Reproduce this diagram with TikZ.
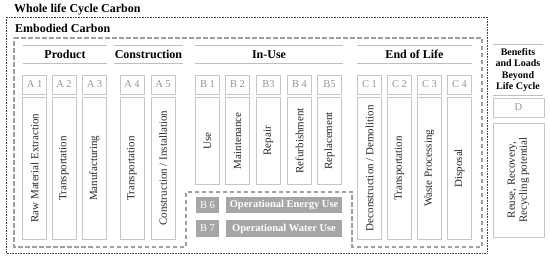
\documentclass[tikz,border=0pt]{standalone}
\usepackage{fontspec}
\setmainfont{Liberation Serif}
\begin{document}
\begin{tikzpicture}[x=1pt,y=-1pt,
        codebox/.style={draw=gray!45, line width=0.8pt, text=gray!85,
            font=\fontsize{10.5}{12}\selectfont, minimum width=24pt,
            minimum height=19pt, inner sep=0pt},
        stagebox/.style={draw=gray!45, line width=0.8pt, rotate=90,
            minimum height=24pt, inner sep=0pt, text=black!85,
            font=\fontsize{11}{12}\selectfont},
        headbox/.style={font=\bfseries\fontsize{12}{14}\selectfont,
            minimum height=17.5pt, inner sep=0pt},
        hline/.style={draw=gray!50, line width=0.8pt},
        operbox/.style={fill=gray!70, text=white, inner sep=0pt,
            font=\fontsize{10.5}{12}\selectfont},
        titlebox/.style={font=\bfseries\fontsize{12}{14}\selectfont,
            anchor=west, inner sep=0pt}]
        \useasboundingbox (0,0) rectangle (550,261);

        % Whole life cycle and embodied carbon outlines.
        \draw[densely dotted, gray!50!black, line width=0.6pt]
            (6,17) rectangle (487,253);
        \draw[gray!75, line width=1.6pt, dash pattern=on 4.5pt off 2.5pt]
            (14,38) -- (482,38) -- (482,247) -- (352,247) -- (352,192)
            -- (186,192) -- (186,247) -- (14,247) -- cycle;
        \node[titlebox] (whole) at (14,9.5) {Whole life Cycle Carbon};
        \node[titlebox] (embodied) at (15,28) {Embodied Carbon};

        % Stage headers.
        \node[headbox, minimum width=84.3pt] (product) at (65,54.25) {Product};
        \node[headbox, minimum width=69pt] (construction) at (148.5,54.25) {Construction};
        \node[headbox, minimum width=148pt] (inuse) at (269,54.25) {In-Use};
        \node[headbox, minimum width=115pt] (endoflife) at (414.5,54.25) {End of Life};
        \node[headbox, minimum width=50pt, minimum height=50pt, align=center,
            font=\bfseries\fontsize{10}{11.5}\selectfont] (beyond) at (518,70)
            {Benefits\\and Loads\\Beyond\\Life Cycle};
        \foreach \h in {product,construction,inuse,endoflife,beyond}
            \draw[hline] (\h.north west) -- (\h.north east)
                (\h.south west) -- (\h.south east);

        % Modules with their processes.
        \foreach \x/\n/\c/\t in {34.7/a1/A 1/Raw Material Extraction,
                64/a2/A 2/Transportation, 94.5/a3/A 3/Manufacturing,
                132/a4/A 4/Transportation,
                163/a5/A 5/{Construction / Installation},
                369.5/c1/C 1/{Deconstruction / Demolition},
                399.5/c2/C 2/Transportation, 429.5/c3/C 3/Waste Processing,
                459.5/c4/C 4/Disposal}{
            \node[codebox] (\n) at (\x,84.5) {\c};
            \node[stagebox, minimum width=141.5pt] (\n text) at (\x,168.25) {\t};
        }
        \foreach \x/\n/\c/\t in {207.5/b1/B 1/Use, 237.5/b2/B 2/Maintenance,
                268.5/b3/B3/Repair, 299.5/b4/B 4/Refurbishment,
                329.5/b5/B5/Replacement}{
            \node[codebox] (\n) at (\x,84.5) {\c};
            \node[stagebox, minimum width=86.5pt] (\n text) at (\x,140.75) {\t};
        }
        \node[codebox, minimum width=51pt] (d) at (518.5,107.5) {D};
        \node[stagebox, minimum width=114pt, minimum height=51pt, align=center]
            (d text) at (518.5,180) {Reuse, Recovery,\\Recycling potential};

        % Operational energy and water.
        \node[operbox, minimum width=23pt, minimum height=16pt] (b6) at (207.5,205) {B 6};
        \node[operbox, minimum width=116pt, minimum height=16pt, font=\bfseries\fontsize{10.5}{12}\selectfont]
            (b6 text) at (284,205) {Operational Energy Use};
        \node[operbox, minimum width=23pt, minimum height=17pt] (b7) at (207.5,228.5) {B 7};
        \node[operbox, minimum width=116pt, minimum height=17pt, font=\bfseries\fontsize{10.5}{12}\selectfont]
            (b7 text) at (284,228.5) {Operational Water Use};
    \end{tikzpicture}
\end{document}
